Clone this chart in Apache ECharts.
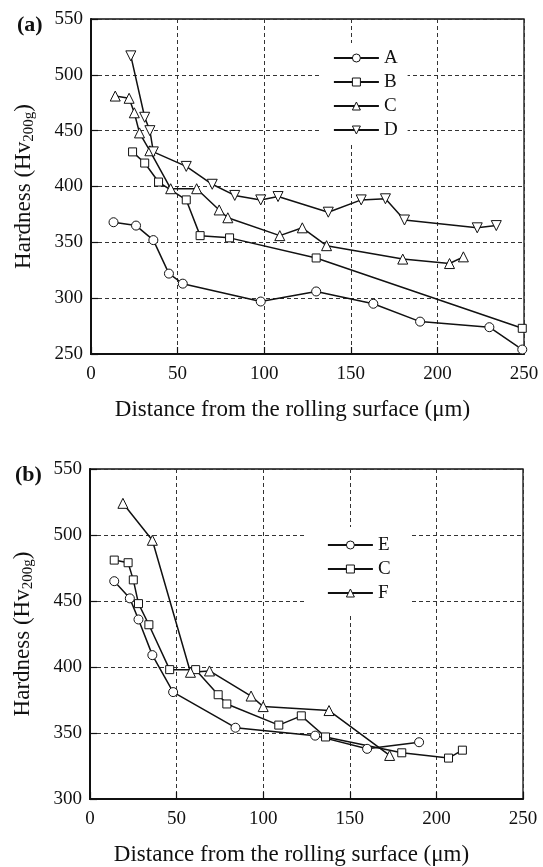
<!DOCTYPE html>
<html><head><meta charset="utf-8">
<script src="https://cdn.jsdelivr.net/npm/echarts@6/dist/echarts.min.js"></script>
<style>html,body{margin:0;padding:0;background:#fff}#c{width:543px;height:867px}</style>
</head><body><div id="c"></div>
<script>
// Panel (a)
const seriesA = [[13,368],[26,365],[36,352],[45,322],[53,313],[98,297],[130,306],[163,295],[190,279],[230,274],[249,254]];
const seriesB = [[24,431],[31,421],[39,404],[55,388],[63,356],[80,354],[130,336],[249,273]];
const seriesC = [[14,481],[22,479],[25,466],[28,448],[34,432],[46,398],[61,398],[74,379],[79,372],[109,356],[122,363],[136,347],[180,335],[207,331],[215,337]];
const seriesD = [[23,517],[31,462],[34,450],[36,431],[55,418],[70,402],[83,392],[98,388],[108,391],[137,377],[156,388],[170,389],[181,370],[223,363],[234,365]];
// Panel (b)
const seriesE = [[14,465],[23,452],[28,436],[36,409],[48,381],[84,354],[130,348],[160,338],[190,343]];
const seriesF = [[19,524],[36,496],[58,396],[69,397],[93,378],[100,370],[138,367],[173,333]];
const xTicks = [0,50,100,150,200,250];
const legendA = ['A','B','C','D'];
const legendB = ['E','C (b)','F'];

const FONT = 'Liberation Serif';
const chart = echarts.init(document.getElementById('c'), null, {renderer:'canvas'});

function xAxisDef(gi){
  return {
    gridIndex: gi, type:'value', min: xTicks[0], max: xTicks[xTicks.length-1], interval: 50,
    name: 'Distance from the rolling surface (\u03bcm)', nameLocation:'middle', nameGap: 44,
    nameTextStyle:{fontFamily:FONT, fontSize:23, color:'#111', padding:[0,30,0,0]},
    axisLine:{show:true, onZero:false, lineStyle:{color:'#111', width:2}},
    axisTick:{show:true, inside:true, length:7, lineStyle:{color:'#111', width:1.2}},
    axisLabel:{fontFamily:FONT, fontSize:19, color:'#111', margin:11},
    splitLine:{show:true, lineStyle:{color:'#333', type:[4,3], width:1}}
  };
}
function yAxisDef(gi, min){
  return {
    gridIndex: gi, type:'value', min: min, max: 550, interval: 50,
    name: 'Hardness (Hv{sub|200g})', nameLocation:'middle', nameGap: 54,
    nameTextStyle:{fontFamily:FONT, fontSize:23, color:'#111',
      rich:{sub:{fontFamily:FONT, fontSize:15, color:'#111', verticalAlign:'bottom', padding:[11,0,0,0]}}},
    axisLine:{show:true, lineStyle:{color:'#111', width:2}},
    axisTick:{show:true, inside:true, length:7, lineStyle:{color:'#111', width:1.2}},
    axisLabel:{fontFamily:FONT, fontSize:19, color:'#111', margin:8},
    splitLine:{show:true, lineStyle:{color:'#333', type:[4,3], width:1}}
  };
}
function mk(name, data, gi, symbol, size, rot){
  return {
    name: name, type:'line', xAxisIndex: gi, yAxisIndex: gi, data: data,
    symbol: symbol, symbolSize: size, symbolRotate: rot||0, showAllSymbol:true,
    lineStyle:{color:'#111', width:1.5}, itemStyle:{color:'#fff', borderColor:'#111', borderWidth:1},
    animation:false, z: 3
  };
}
const legItem = {color:'#fff', borderColor:'#111', borderWidth:1};
const legLine = {color:'#111', width:1.8};

chart.setOption({
  backgroundColor:'#fff',
  animation:false,
  grid:[
    {left:91, top:19, width:433, height:335, show:true, borderColor:'#111', borderWidth:1.3, backgroundColor:'transparent'},
    {left:90, top:469, width:433, height:334, show:true, borderColor:'#111', borderWidth:1.3, backgroundColor:'transparent'}
  ],
  xAxis:[xAxisDef(0), xAxisDef(1)],
  yAxis:[yAxisDef(0,250), yAxisDef(1,300)],
  legend:[
    {data: legendA, orient:'vertical', left:320, top:43, itemWidth:45, itemHeight:10, itemGap:4,
     padding:[5,10,5,13], backgroundColor:'#fff', selectedMode:false,
     itemStyle: legItem, lineStyle: legLine,
     textStyle:{fontFamily:FONT, fontSize:19, color:'#111', lineHeight:20}},
    {data: legendB, orient:'vertical', left:307, top:527, itemWidth:45, itemHeight:10, itemGap:4,
     padding:[8,19,13,20], backgroundColor:'#fff', selectedMode:false,
     itemStyle: legItem, lineStyle: legLine,
     formatter: n => n.replace(' (b)',''),
     textStyle:{fontFamily:FONT, fontSize:19, color:'#111', lineHeight:20}}
  ],
  graphic:[
    {type:'text', left:17, top:14, style:{text:'(a)', font:'bold 22px "Liberation Serif"', fill:'#111'}},
    {type:'text', left:15, top:464, style:{text:'(b)', font:'bold 22px "Liberation Serif"', fill:'#111'}}
  ],
  series:[
    mk('A', seriesA, 0, 'circle', 9),
    mk('B', seriesB, 0, 'rect', 8),
    mk('C', seriesC, 0, 'triangle', 10),
    mk('D', seriesD, 0, 'triangle', 10, 180),
    mk('E', seriesE, 1, 'circle', 9),
    mk('C (b)', seriesC, 1, 'rect', 8),
    mk('F', seriesF, 1, 'triangle', 10)
  ]
});
</script></body></html>
